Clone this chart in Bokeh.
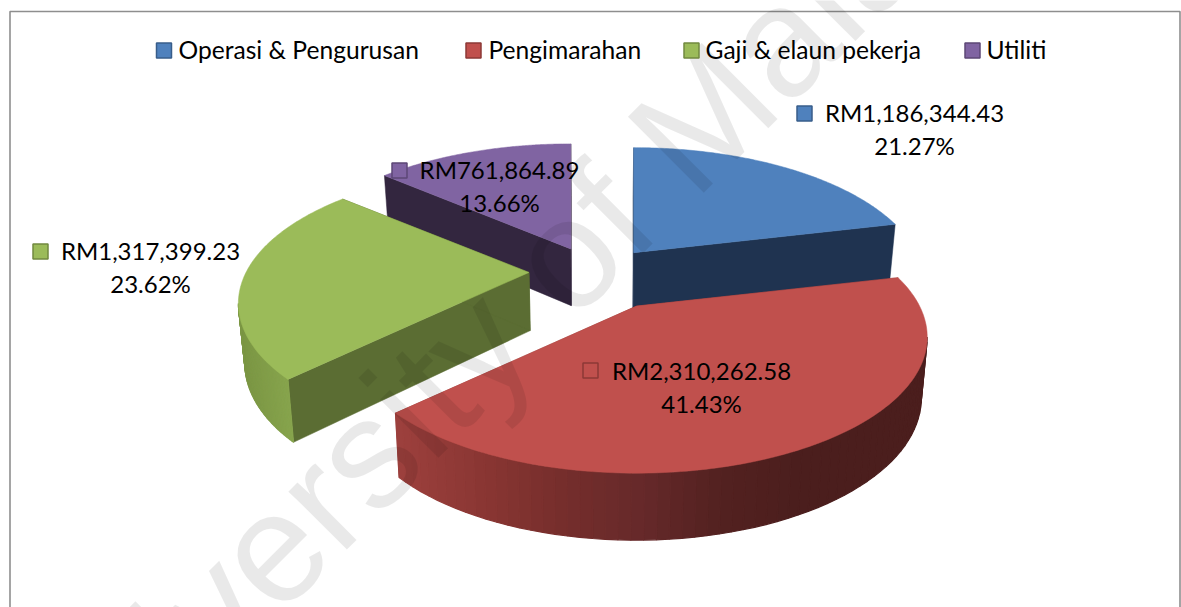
import numpy as np
from bokeh.plotting import figure
from bokeh.models import Range1d
from bokeh.core.properties import value
from bokeh.embed import file_html
from bokeh.resources import INLINE

categories = ["Operasi & Pengurusan", "Pengimarahan", "Gaji & elaun pekerja", "Utiliti"]
amounts = [1186344.43, 2310262.58, 1317399.23, 761864.89]
amount_labels = ["RM1,186,344.43", "RM2,310,262.58", "RM1,317,399.23", "RM761,864.89"]
percent_labels = ["21.27%", "41.43%", "23.62%", "13.66%"]
top_colors = ["#4f81bd", "#c0504d", "#9bbb59", "#8064a2"]
border_colors = ["#385d8a", "#8c3836", "#71893f", "#5c4776"]
face_colors = ["#1f3350", "#8f3a37", "#5b6d33", "#33263f"]
legend_key_x = [163.5, 473, 691, 972]
legend_text_x = [178, 488, 705, 986]
label_key_xy = [(804, 113), (590, 370), (40, 251), (399, 170)]
label_text_xy = [(914, 112), (701, 370), (150, 250), (499, 169)]
slice_nudge = [(-4, -2), (8, 1), (-1, -7), (2, -2)]

# 3-D projection of the pie, in page pixels
CX, CY = 596, 278
A, B = 283, 129
P, Q = 0.228, 0.147
EXPLODE = 0.235
H, K = 58, 0.982


def top_point(theta, mid, n):
    z = -np.cos(theta)
    s = 1 / (1 - P * z)
    x = CX + n[0] + EXPLODE * A * np.sin(mid) + A * np.sin(theta) * s
    y = CY + n[1] - EXPLODE * B * np.cos(mid) + B * z * s
    return x, y


def bottom_point(theta, mid, n):
    x, y = top_point(theta, mid, n)
    ztot = -np.cos(theta) - EXPLODE * np.cos(mid)
    return CX + (x - CX) * K, CY + (y - CY) * K + H / (1 - Q * ztot)


def apex(mid, n):
    return CX + n[0] + EXPLODE * A * np.sin(mid), CY + n[1] - EXPLODE * B * np.cos(mid)


def apex_bottom(mid, n):
    x, y = apex(mid, n)
    ztot = -EXPLODE * np.cos(mid)
    return CX + (x - CX) * K, CY + (y - CY) * K + H / (1 - Q * ztot)


def mix(stops, t):
    t = min(max(t, 0), 1) * (len(stops) - 1)
    i = min(int(t), len(stops) - 2)
    a, b = stops[i], stops[i + 1]
    f = t - i
    return "#" + "".join(
        "%02x" % round(int(a[j:j + 2], 16) * (1 - f) + int(b[j:j + 2], 16) * f) for j in (1, 3, 5)
    )


side_stops = {
    1: (400, 800, ["#9c403d", "#8a3633", "#762e2c", "#66292a", "#532120", "#4b1e1d"]),
    2: (240, 300, ["#7b9644", "#8aa84f"]),
}

p = figure(width=1181, height=607, x_range=Range1d(0, 1181), y_range=Range1d(607, 0),
           output_backend="svg", toolbar_location=None,
           x_axis_location=None, y_axis_location=None, min_border=0)
p.grid.visible = False
p.outline_line_color = None
p.background_fill_color = "white"
p.border_fill_color = "white"

# chart frame
p.multi_line(xs=[[9.5, 9.5, 1179.5, 1179.5]], ys=[[640, 11, 11, 640]], line_color="#8e8e8e", line_width=1.6)

total = sum(amounts)
edges = np.concatenate([[0], np.cumsum(amounts) / total * 2 * np.pi])
tangent = np.pi - np.arccos(P)  # silhouette of the projected disc

for i in [3, 0, 2, 1]:
    t0, t1 = edges[i], edges[i + 1]
    mid = (t0 + t1) / 2
    n = slice_nudge[i]
    ax, ay = apex(mid, n)
    bx, by = apex_bottom(mid, n)
    # radial faces
    for t in (t0, t1):
        x1, y1 = top_point(t, mid, n)
        x2, y2 = bottom_point(t, mid, n)
        p.patch([ax, x1, x2, bx], [ay, y1, y2, by], fill_color=face_colors[i],
                line_color=face_colors[i], line_width=0.5)
    # curved outer side, in shaded strips
    lo, hi = max(t0, tangent), min(t1, 2 * np.pi - tangent)
    if i in side_stops and hi > lo:
        x_lo, x_hi, stops = side_stops[i]
        th = np.linspace(lo, hi, 61)
        for a, b in zip(th[:-1], th[1:]):
            xa, ya = top_point(a, mid, n)
            xb, yb = top_point(b, mid, n)
            xc, yc = bottom_point(b, mid, n)
            xd, yd = bottom_point(a, mid, n)
            col = mix(stops, ((xa + xb) / 2 - x_lo) / (x_hi - x_lo))
            p.patch([xa, xb, xc, xd], [ya, yb, yc, yd], fill_color=col, line_color=col, line_width=1.2)
    # top face
    th = np.linspace(t0, t1, 120)
    x, y = top_point(th, mid, n)
    p.patch(np.r_[ax, x], np.r_[ay, y], fill_color=top_colors[i], line_color=top_colors[i], line_width=0.5)

# watermark over the chart
p.text(x=[515], y=[304], text=["University of Malaya"], angle=np.radians(45),
       text_font=value("Liberation Sans"), text_font_size=value("156px"),
       text_color="black", text_alpha=0.085, text_align="center", text_baseline="alphabetic")

# legend
FONT = value("Lato")
p.scatter(legend_key_x, [50] * 4, marker="square", size=15, fill_color=top_colors,
          line_color=border_colors, line_width=1.5)
p.text(legend_text_x, [49] * 4, text=categories, text_font=FONT, text_font_size=value("24.6px"),
       text_color="black", text_align="left", text_baseline="middle")

# data labels
p.scatter([q[0] for q in label_key_xy], [q[1] for q in label_key_xy], marker="square", size=15,
          fill_color=top_colors, line_color=border_colors, line_width=1.5)
p.text([q[0] for q in label_text_xy], [q[1] for q in label_text_xy], text=amount_labels,
       text_font=FONT, text_font_size=value("24px"), text_color="black",
       text_align="center", text_baseline="middle")
p.text([q[0] for q in label_text_xy], [q[1] + 33 for q in label_text_xy], text=percent_labels,
       text_font=FONT, text_font_size=value("24px"), text_color="black",
       text_align="center", text_baseline="middle")

open("out.html", "w").write(file_html(p, INLINE))
